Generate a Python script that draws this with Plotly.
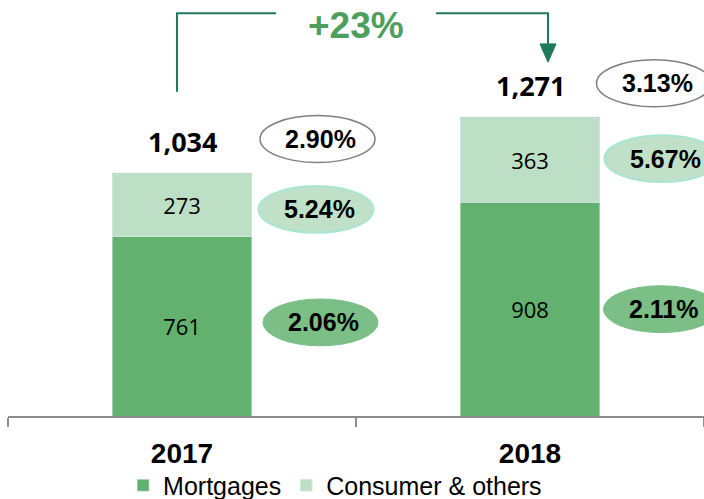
import plotly.graph_objects as go

# ---- data ----
years = ["2017", "2018"]
mortgages = [761, 908]
consumer = [273, 363]
totals = [1034, 1271]
total_yield = ["2.90%", "3.13%"]
consumer_yield = ["5.24%", "5.67%"]
mortgage_yield = ["2.06%", "2.11%"]
growth_label = "+23%"
series_names = ["Mortgages", "Consumer & others"]

# ---- styles ----
C_MORT = "#63b16e"
C_CONS = "#bddfc6"
C_ARROW = "#1f7a5a"
C_GROWTH = "#4e9e5e"
NUM_FONT = "Open Sans"
PCT_FONT = "Liberation Sans"
K = 1.02  # vertical pixel factor

fig = go.Figure()
fig.add_trace(go.Bar(
    x=years, y=mortgages, name=series_names[0], marker_color=C_MORT,
    text=[str(v) for v in mortgages], textposition="inside",
    insidetextanchor="middle", textangle=0,
    textfont=dict(family=NUM_FONT, size=22, color="black"), width=0.4,
))
fig.add_trace(go.Bar(
    x=years, y=consumer, name=series_names[1], marker_color=C_CONS,
    text=[str(v) for v in consumer], textposition="inside",
    insidetextanchor="middle", textangle=0,
    textfont=dict(family=NUM_FONT, size=22, color="black"), width=0.4,
))

annotations = []
shapes = []

# totals above bars
for i, t in enumerate(totals):
    annotations.append(dict(
        x=i, y=t, xref="x", yref="y", text=f"<b>{t:,}</b>", showarrow=False,
        yanchor="middle", yshift=31 * K,
        font=dict(family=NUM_FONT, size=27, color="black"),
    ))

# ellipse labels: (label, year index, anchor value, dx px, dy px, style)
ellipse_styles = {
    "total": dict(fill="white", line="#7f7f7f", lw=1.5),
    "cons": dict(fill="#c0e0c8", line="#a9e5d3", lw=2),
    "mort": dict(fill="#7bbf87", line="#7bbf87", lw=1),
}
ell_specs = []
for i in range(len(years)):
    ell_specs.append((total_yield[i], i, totals[i], [135.5, 124][i], 33, "total"))
    ell_specs.append((consumer_yield[i], i, mortgages[i] + consumer[i] / 2,
                      [134, 132][i], [-4.5, 1][i], "cons"))
    ell_specs.append((mortgage_yield[i], i, mortgages[i] / 2,
                      [138.5, 131][i], [4, 0][i], "mort"))

EW, EH = 115, 46 * K
for label, i, yv, dx, dy, st in ell_specs:
    s = ellipse_styles[st]
    dy = dy * K
    shapes.append(dict(
        type="circle", xref="x", yref="y", xsizemode="pixel", ysizemode="pixel",
        xanchor=i, yanchor=yv, x0=dx - EW / 2, x1=dx + EW / 2,
        y0=dy - EH / 2, y1=dy + EH / 2,
        fillcolor=s["fill"], line=dict(color=s["line"], width=s["lw"]), layer="above",
    ))
    annotations.append(dict(
        x=i, y=yv, xref="x", yref="y", text=f"<b>{label}</b>", showarrow=False,
        xshift=dx + 3, yshift=dy, yanchor="middle",
        font=dict(family=PCT_FONT, size=25, color="black"),
    ))


def vp(path_pts):
    return " ".join(f"{c} {x},{-y * K:.1f}" for c, x, y in path_pts)


# growth bracket arrow (pixel paths anchored at categories / plot top)
shapes.append(dict(
    type="path", xref="x", yref="paper", xsizemode="pixel", ysizemode="pixel",
    xanchor=0, yanchor=1, path=vp([("M", -5, 90), ("L", -5, 13), ("L", 94, 13)]),
    line=dict(color=C_ARROW, width=2), layer="above",
))
shapes.append(dict(
    type="path", xref="x", yref="paper", xsizemode="pixel", ysizemode="pixel",
    xanchor=1, yanchor=1, path=vp([("M", -94, 13), ("L", 18, 13), ("L", 18, 44)]),
    line=dict(color=C_ARROW, width=2), layer="above",
))
shapes.append(dict(
    type="path", xref="x", yref="paper", xsizemode="pixel", ysizemode="pixel",
    xanchor=1, yanchor=1, path=vp([("M", 10, 43), ("L", 26, 43), ("L", 18, 61)]) + " Z",
    fillcolor=C_ARROW, line=dict(color=C_ARROW, width=1), layer="above",
))
annotations.append(dict(
    x=0.5, y=1, xref="x", yref="paper", text=f"<b>{growth_label}</b>",
    showarrow=False, yanchor="middle", yshift=-25.5,
    font=dict(family="Liberation Sans", size=37, color=C_GROWTH),
))

fig.update_layout(
    width=704, height=509, autosize=False,
    margin=dict(l=8, r=0, t=0, b=86),
    barmode="stack",
    plot_bgcolor="white", paper_bgcolor="white",
    showlegend=True,
    legend=dict(orientation="h", x=0.47, xanchor="center", y=-0.167, yanchor="middle",
                font=dict(family="Liberation Sans", size=25, color="black"),
                traceorder="normal", bgcolor="rgba(0,0,0,0)"),
    annotations=annotations, shapes=shapes,
)
fig.update_xaxes(
    type="category", range=[-0.5, 1.5], showline=True, linecolor="#8c8c8c", linewidth=1.5,
    ticks="outside", tickson="boundaries", ticklen=9, tickcolor="#8c8c8c", tickwidth=1.5,
    tickfont=dict(family="Liberation Sans", size=28, color="black"),
    tickvals=years, ticktext=[f"<b>{y}</b>" for y in years], ticklabelstandoff=12,
    showgrid=False, zeroline=False, fixedrange=True,
)
fig.update_yaxes(range=[0, 1768], visible=False, showgrid=False, fixedrange=True)

# remove the browser's default page margin so the figure starts at the window corner
fig.write_html(
    "out.html",
    config={"displayModeBar": False},
    post_script="document.body.style.margin='0';document.body.style.overflow='hidden';",
)
